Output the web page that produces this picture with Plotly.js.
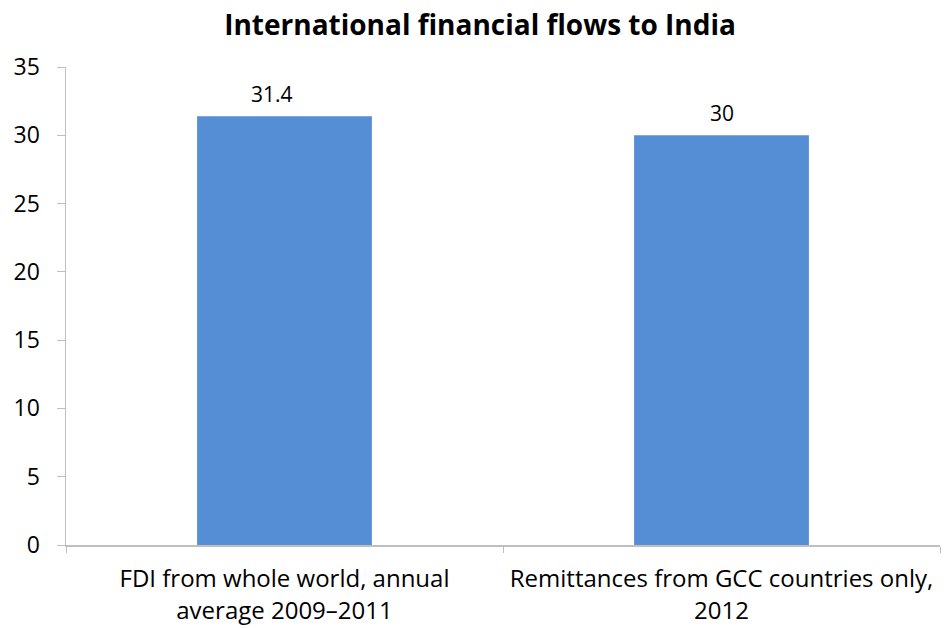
<!DOCTYPE html>
<html><head><meta charset="utf-8">
<script src="https://cdn.plot.ly/plotly-3.0.1.min.js"></script>
<style>body{margin:0;background:#fff}#c{width:945px;height:628px}</style>
</head><body><div id="c"></div>
<script>
const categories = ["FDI from whole world, annual<br>average 2009–2011", "Remittances from GCC countries only,<br>2012"];
const values = [31.4, 30];
const valueLabels = ["31.4", "30"];
const yTicks = [0, 5, 10, 15, 20, 25, 30, 35];

const font = "'Open Sans', sans-serif";
const labelShift = [-13, 0];
Plotly.newPlot('c', [{
  type: 'bar', x: categories, y: values,
  marker: {color: '#558ED5'}, hoverinfo: 'none'
}], {
  width: 945, height: 628,
  margin: {l: 66, r: 5, t: 67, b: 83},
  paper_bgcolor: '#fff', plot_bgcolor: '#fff',
  bargap: 0.6,
  title: {text: '<b>International financial flows to India</b>', x: 0.508, xanchor: 'center', y: 0.96, yanchor: 'middle',
    font: {family: font, size: 28, color: '#000'}},
  annotations: categories.map((c, i) => ({x: c, y: values[i], text: valueLabels[i], showarrow: false,
    yanchor: 'bottom', yshift: 6, xshift: labelShift[i], font: {family: font, size: 21, color: '#000'}})),
  xaxis: {showline: true, linecolor: '#BFBFBF', linewidth: 1.5, ticks: 'outside', tickson: 'boundaries',
    ticklen: 6, tickcolor: '#BFBFBF', tickfont: {family: font, size: 24, color: '#000'}, showgrid: false,
    ticklabelstandoff: 12},
  yaxis: {range: [0, 35], tickvals: yTicks, showline: true, linecolor: '#BFBFBF', linewidth: 1.5,
    ticks: 'outside', ticklen: 8, tickcolor: '#BFBFBF', showgrid: false, zeroline: false,
    tickfont: {family: font, size: 23, color: '#000'}, ticklabelstandoff: 12}
}, {staticPlot: true});
</script></body></html>
